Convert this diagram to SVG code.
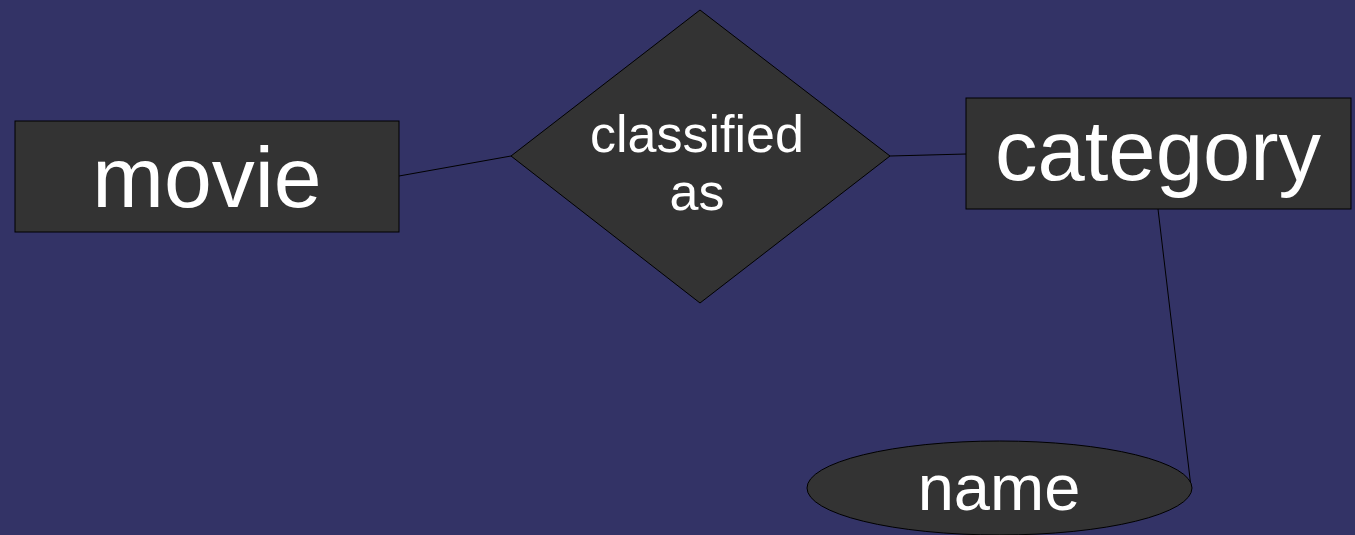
<svg xmlns="http://www.w3.org/2000/svg" width="1355" height="535" viewBox="0 0 1355 535">
<style>
.shape{fill:#333333;stroke:#000000;stroke-width:1}
.lbl{fill:#ffffff;font-family:"Liberation Sans",Arial,sans-serif;text-anchor:middle}
.conn{stroke:#000000;stroke-width:1;fill:none}
</style>
<rect width="1355" height="535" fill="#333366"/>
<g id="connectors">
<line class="conn" x1="399" y1="176" x2="511" y2="156"/>
<line class="conn" x1="890" y1="156" x2="966" y2="154"/>
<line class="conn" x1="1158" y1="209" x2="1191" y2="487"/>
</g>
<g id="movie">
<rect class="shape" x="15" y="121" width="384" height="111"/>
<text class="lbl" x="207" y="207" font-size="86">movie</text>
</g>
<g id="classified_as">
<polygon class="shape" points="700,10 890,156 700,303 511,156"/>
<text class="lbl" x="697" y="152" font-size="52">classified</text>
<text class="lbl" x="697" y="210" font-size="52">as</text>
</g>
<g id="category">
<rect class="shape" x="966" y="98" width="385" height="111"/>
<text class="lbl" x="1158" y="180" font-size="85">category</text>
</g>
<g id="name">
<ellipse class="shape" cx="999.5" cy="488" rx="192.5" ry="47"/>
<text class="lbl" x="999" y="510" font-size="65">name</text>
</g>
</svg>
